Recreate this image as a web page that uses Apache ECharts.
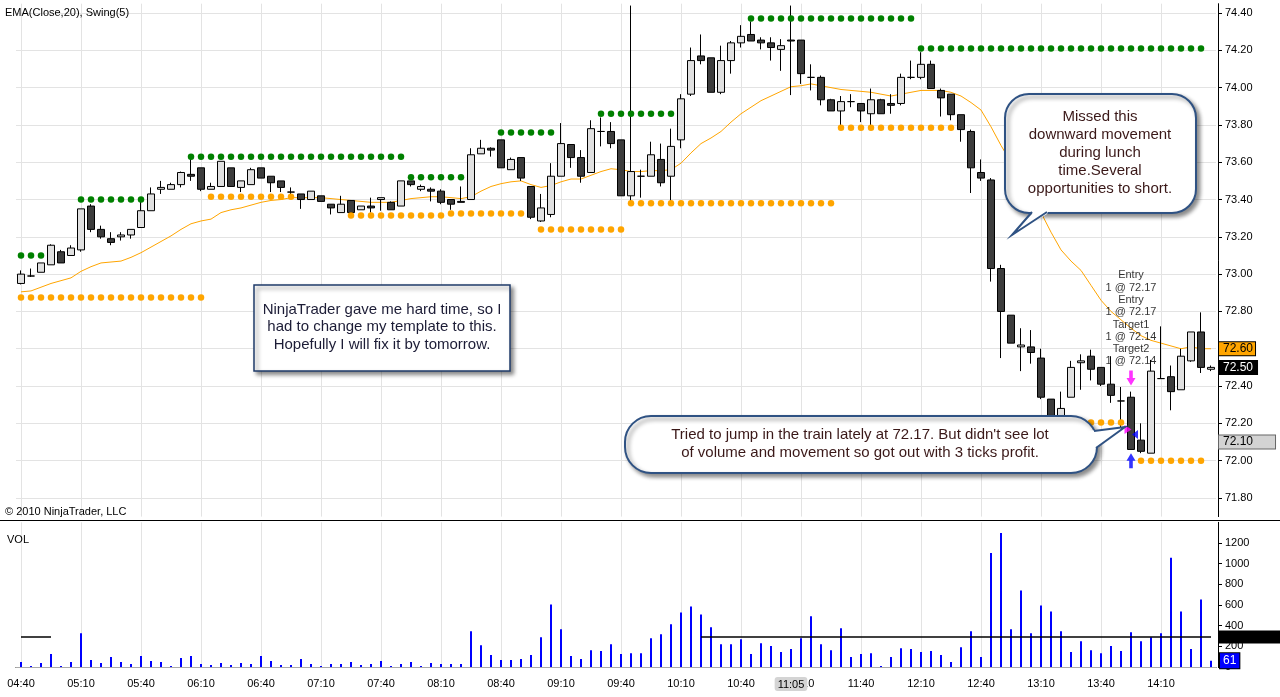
<!DOCTYPE html>
<html>
<head>
<meta charset="utf-8">
<script src="https://cdn.jsdelivr.net/npm/echarts@6/dist/echarts.min.js"></script>
<style>html,body{margin:0;padding:0;background:#fff;}#c{width:1280px;height:697px;}</style>
</head>
<body>
<div id="c"></div>
<script>
// ---------- data ----------
const startTime = '04:40';
const barMinutes = 5;
const tickLabels = ['04:40','05:10','05:40','06:10','06:40','07:10','07:40','08:10','08:40','09:10','09:40','10:10','10:40','11:10','11:40','12:10','12:40','13:10','13:40','14:10'];
const priceTicks = [71.8,72.0,72.2,72.4,72.6,72.8,73.0,73.2,73.4,73.6,73.8,74.0,74.2,74.4];

// [open, close, low, high]
const ohlc = [
[72.95,73.00,72.945,73.02],[72.99,72.99,72.985,73.03],[73.01,73.06,73.01,73.06],[73.05,73.155,73.05,73.16],[73.12,73.06,73.06,73.13],
[73.10,73.14,73.10,73.155],[73.13,73.35,73.12,73.35],[73.365,73.24,73.225,73.375],[73.24,73.20,73.19,73.26],[73.19,73.17,73.155,73.225],
[73.20,73.21,73.18,73.225],[73.21,73.24,73.19,73.24],[73.25,73.34,73.25,73.395],[73.34,73.43,73.34,73.465],[73.455,73.465,73.43,73.50],
[73.455,73.48,73.455,73.49],[73.48,73.545,73.465,73.55],[73.535,73.525,73.50,73.64],[73.57,73.455,73.445,73.57],[73.455,73.47,73.455,73.49],
[73.47,73.605,73.47,73.605],[73.57,73.47,73.47,73.57],[73.465,73.50,73.44,73.50],[73.48,73.56,73.48,73.57],[73.57,73.515,73.515,73.57],
[73.525,73.49,73.44,73.525],[73.50,73.465,73.44,73.50],[73.44,73.44,73.43,73.465],[73.43,73.40,73.35,73.43],[73.40,73.445,73.40,73.445],
[73.42,73.39,73.39,73.42],[73.375,73.355,73.32,73.375],[73.33,73.375,73.33,73.42],[73.395,73.33,73.33,73.395],[73.345,73.365,73.345,73.365],
[73.365,73.355,73.33,73.41],[73.40,73.41,73.34,73.41],[73.385,73.345,73.345,73.39],[73.365,73.50,73.365,73.50],[73.50,73.48,73.47,73.50],
[73.455,73.47,73.445,73.48],[73.455,73.445,73.39,73.465],[73.445,73.385,73.375,73.455],[73.40,73.375,73.345,73.40],[73.39,73.385,73.385,73.47],
[73.40,73.64,73.40,73.675],[73.645,73.675,73.645,73.72],[73.675,73.665,73.63,73.68],[73.72,73.57,73.57,73.72],[73.56,73.615,73.56,73.625],
[73.625,73.515,73.50,73.625],[73.47,73.305,73.295,73.47],[73.285,73.355,73.28,73.43],[73.32,73.525,73.305,73.595],[73.525,73.70,73.525,73.81],
[73.695,73.625,73.57,73.695],[73.625,73.525,73.49,73.665],[73.545,73.78,73.545,73.825],[73.765,73.765,73.685,73.84],[73.765,73.70,73.675,73.815],
[73.72,73.42,73.42,73.72],[73.42,73.55,73.39,74.44],[73.525,73.525,73.41,73.56],[73.525,73.64,73.525,73.71],[73.615,73.49,73.47,73.70],
[73.525,73.685,73.39,73.78],[73.72,73.94,73.675,73.965],[73.965,74.145,73.955,74.215],[74.17,74.145,74.125,74.285],[74.16,73.975,73.975,74.16],
[73.975,74.145,73.965,74.225],[74.145,74.24,74.075,74.25],[74.24,74.275,74.215,74.335],[74.285,74.25,74.25,74.355],[74.255,74.24,74.205,74.27],
[74.24,74.215,74.145,74.27],[74.205,74.225,74.09,74.26],[74.255,74.25,73.96,74.44],[74.255,74.075,74.02,74.255],[74.055,74.055,73.985,74.125],
[74.055,73.935,73.905,74.065],[73.935,73.875,73.875,73.94],[73.875,73.925,73.80,73.955],[73.925,73.925,73.895,73.965],[73.915,73.875,73.815,73.915],
[73.86,73.935,73.80,73.995],[73.935,73.86,73.86,73.94],[73.915,73.905,73.86,73.965],[73.915,74.055,73.905,74.075],[74.055,74.055,74.045,74.145],
[74.055,74.125,74.045,74.19],[74.125,73.995,73.995,74.145],[73.985,73.945,73.845,73.995],[73.965,73.855,73.825,73.965],[73.855,73.775,73.71,73.855],
[73.765,73.57,73.435,73.775],[73.545,73.515,73.50,73.615],[73.505,73.03,72.96,73.515],[73.03,72.80,72.55,73.05],[72.78,72.63,72.63,72.78],
[72.61,72.62,72.48,72.71],[72.61,72.58,72.52,72.70],[72.55,72.34,72.33,72.60],[72.33,72.23,72.22,72.33],[72.23,72.28,72.22,72.37],
[72.34,72.50,72.34,72.535],[72.525,72.535,72.38,72.57],[72.56,72.49,72.43,72.595],[72.50,72.41,72.40,72.50],[72.41,72.35,72.31,72.56],
[72.32,72.32,72.17,72.395],[72.34,72.06,72.06,72.37],[72.11,72.05,72.04,72.20],[72.04,72.48,72.04,72.54],[72.44,72.44,72.44,72.72],
[72.45,72.37,72.27,72.51],[72.38,72.56,72.38,72.60],[72.535,72.69,72.53,72.69],[72.69,72.50,72.47,72.795],[72.49,72.50,72.48,72.51]
];

const ema20 = [
72.905,72.91,72.93,72.95,72.965,72.98,73.015,73.04,73.06,73.065,
73.07,73.09,73.115,73.145,73.175,73.205,73.24,73.27,73.285,73.295,
73.33,73.345,73.355,73.37,73.385,73.395,73.40,73.41,73.41,73.41,
73.41,73.405,73.40,73.395,73.39,73.385,73.385,73.385,73.395,73.405,
73.41,73.415,73.415,73.41,73.405,73.415,73.445,73.47,73.485,73.495,
73.50,73.48,73.465,73.475,73.495,73.51,73.51,73.53,73.55,73.565,
73.56,73.55,73.55,73.555,73.555,73.56,73.595,73.65,73.70,73.73,
73.765,73.815,73.86,73.895,73.93,73.955,73.98,74.005,74.01,74.02,
74.01,74.00,73.99,73.985,73.98,73.975,73.965,73.955,73.965,73.975,
73.985,73.985,73.985,73.975,73.955,73.92,73.88,73.79,73.69,73.60,
73.51,73.42,73.33,73.225,73.13,73.07,73.02,72.94,72.86,72.80,
72.755,72.71,72.67,72.645,72.63,72.615,72.60,72.61,72.60,72.60
];

const volume = [
48,10,38,125,10,48,326,67,38,96,
48,29,106,58,48,10,86,106,29,19,
38,19,38,29,106,58,19,19,77,29,
10,29,29,48,19,29,58,10,29,48,
10,38,29,29,29,346,211,115,67,67,
77,115,288,605,365,106,77,163,154,221,
125,134,134,278,317,413,528,586,509,384,
221,221,269,125,230,202,144,173,278,490,
221,163,374,96,125,134,10,96,182,173,
144,154,115,48,192,346,96,1104,1296,365,
739,326,595,538,346,144,250,163,134,202,
154,336,250,288,326,1056,538,173,653,61
];

// Swing(5) levels: value, first bar, last bar
const swingHighLevel = [73.10, 73.40, 73.63, 73.52, 73.76, 73.86, 74.37, 74.21];
const swingHighFrom  = [0, 6, 17, 39, 48, 58, 73, 90];
const swingHighTo    = [2, 12, 38, 44, 53, 65, 89, 118];
const swingLowLevel  = [72.875, 73.415, 73.315, 73.325, 73.24, 73.38, 73.785, 72.205, 72.00];
const swingLowFrom   = [0, 19, 33, 43, 52, 61, 82, 103, 112];
const swingLowTo     = [18, 27, 42, 50, 60, 81, 93, 110, 118];

// executions
const execBars   = [111, 111, 111, 111];
const execPrices = [72.443, 72.00, 72.167, 72.14];
const execText = ['Entry','1 @ 72.17','Entry','1 @ 72.17','Target1','1 @ 72.14','Target2','1 @ 72.14'];

// right-axis price tags
const emaTag = 72.60;
const lastTag = 72.50;
const greyTag = 72.10;
const volTag = 61;
const volAvgLevel = 290;
const volAvgFrom = [0, 68];
const volAvgTo = [3, 119];
const cursorBar = '11:05';

// ---------- build ----------
const n = ohlc.length;
const [h0, m0] = startTime.split(':').map(Number);
const categories = [];
for (let i = 0; i < n; i++) {
  const t = h0 * 60 + m0 + i * barMinutes;
  categories.push(String(Math.floor(t / 60)).padStart(2, '0') + ':' + String(t % 60).padStart(2, '0'));
}
function segs(levels, from, to) {
  const arr = new Array(n).fill(null);
  levels.forEach((lv, k) => { for (let i = from[k]; i <= to[k]; i++) arr[i] = lv; });
  return arr;
}
const highDots = segs(swingHighLevel, swingHighFrom, swingHighTo);
const lowDots = segs(swingLowLevel, swingLowFrom, swingLowTo);

const FONT = 'Arial, "Liberation Sans", sans-serif';
const arrowDown = 'path://M3,0 L7,0 L7,7 L10,7 L5,14 L0,7 L3,7 Z';
const arrowUp = 'path://M5,0 L10,7 L7,7 L7,14 L3,14 L3,7 L0,7 Z';
const execStyles = [
  {symbol: arrowDown, symbolSize: [9, 15], color: '#ff00ff',
   label: {show: true, position: 'top', distance: 3, formatter: execText.join('\n'), fontSize: 11, lineHeight: 12.3, color: '#000', fontFamily: FONT}},
  {symbol: arrowUp, symbolSize: [9, 15], color: '#0000ff'},
  {symbol: 'triangle', symbolSize: [9, 7], symbolRotate: -90, symbolOffset: [-3, 0], color: '#ff00ff'},
  {symbol: 'triangle', symbolSize: [9, 6], symbolRotate: 90, symbolOffset: [4, 0], color: '#0000ff'}
];
const execData = execBars.map((b, k) => {
  const s = execStyles[k];
  const d = {value: [b, execPrices[k]], symbol: s.symbol, symbolSize: s.symbolSize, itemStyle: {color: s.color}};
  if (s.symbolRotate !== undefined) d.symbolRotate = s.symbolRotate;
  if (s.symbolOffset) d.symbolOffset = s.symbolOffset;
  d.label = s.label || {show: false};
  return d;
});

const gridColor = '#e3e3e3';
const clear = 'rgba(0,0,0,0)';
function tagLabel(bg, fg, border, padRight) {
  return {show: true, position: 'end', distance: 3, formatter: p => Number(p.value).toFixed(2),
    backgroundColor: bg, color: fg, borderColor: border, borderWidth: 1,
    padding: [1, padRight, 0, 4], fontSize: 12, fontFamily: FONT};
}
const calloutStyle = {fill: '#fff', stroke: '#2f5283', lineWidth: 2, shadowBlur: 4, shadowOffsetX: 3, shadowOffsetY: 3, shadowColor: 'rgba(0,0,0,0.45)'};

const option = {
  animation: false,
  backgroundColor: '#ffffff',
  textStyle: {fontFamily: FONT},
  axisPointer: {triggerOn: 'none'},
  grid: [
    {left: 16, right: 64, top: 3.7, height: 512.9},
    {left: 16, right: 64, top: 522.3, height: 144.7}
  ],
  xAxis: [
    {type: 'category', gridIndex: 0, data: categories, boundaryGap: true,
     axisLine: {show: false}, axisTick: {show: false}, axisLabel: {show: false}, splitLine: {show: false}},
    {type: 'category', gridIndex: 1, data: categories, boundaryGap: true, offset: 4,
     axisLine: {show: true, lineStyle: {color: '#000', width: 1}}, axisTick: {show: false},
     axisLabel: {interval: 5, color: '#000', fontSize: 11, margin: 7, fontFamily: FONT},
     splitLine: {show: false},
     axisPointer: {show: true, type: 'line', value: categories.indexOf(cursorBar), status: 'show', snap: true,
       lineStyle: {opacity: 0}, triggerTooltip: false,
       label: {show: true, backgroundColor: '#d4d4d4', color: '#000', fontSize: 11, padding: [2, 3, 1, 3], margin: 6, fontFamily: FONT}}}
  ],
  yAxis: [
    {type: 'value', gridIndex: 0, position: 'right', min: 71.7, max: 74.45, offset: 2, scale: true,
     axisLine: {show: true, lineStyle: {color: '#000'}},
     axisTick: {show: true, length: 4, lineStyle: {color: '#000'}, customValues: priceTicks},
     axisLabel: {customValues: priceTicks, formatter: v => Number(v).toFixed(2), color: '#000', fontSize: 11, margin: 7, fontFamily: FONT},
     splitLine: {show: false}},
    {type: 'value', gridIndex: 1, position: 'right', min: 0, max: 1400, interval: 200, offset: 2,
     axisLine: {show: true, lineStyle: {color: '#000'}},
     axisTick: {show: true, length: 4, lineStyle: {color: '#000'}},
     axisLabel: {showMaxLabel: false, formatter: v => String(v), color: '#000', fontSize: 11, margin: 7, padding: [5, 0, 0, 0], fontFamily: FONT},
     splitLine: {show: false}}
  ],
  series: [
    {name: 'EMA', type: 'line', xAxisIndex: 0, yAxisIndex: 0, data: ema20, symbol: 'none', z: 2,
     lineStyle: {color: '#ffa500', width: 1}, itemStyle: {color: '#ffa500'},
     markLine: {silent: true, symbol: 'none', z: 1, animation: false,
       lineStyle: {color: gridColor, width: 1, type: 'solid'}, label: {show: false},
       data: [...priceTicks.map(v => ({yAxis: v})), ...tickLabels.map(t => ({xAxis: t}))]}},
    {name: 'Price', type: 'candlestick', xAxisIndex: 0, yAxisIndex: 0, data: ohlc, barWidth: 7, z: 3,
     itemStyle: {color: '#e0e0e0', color0: '#3c3c3c', borderColor: '#000', borderColor0: '#000', borderColorDoji: '#000', borderWidth: 1},
     markLine: {silent: true, symbol: 'none', z: 6, animation: false, lineStyle: {color: clear, width: 0},
       data: [
         {yAxis: emaTag, label: tagLabel('#ffa500', '#000', '#000', 2)},
         {yAxis: lastTag, label: tagLabel('#000000', '#fff', '#000', 4)},
         {yAxis: greyTag, label: tagLabel('#d3d3d3', '#000', '#666', 22)}
       ]}},
    {name: 'SwingHigh', type: 'scatter', xAxisIndex: 0, yAxisIndex: 0, data: highDots, symbolSize: 6.5, z: 4,
     itemStyle: {color: '#008000', opacity: 1}},
    {name: 'SwingLow', type: 'scatter', xAxisIndex: 0, yAxisIndex: 0, data: lowDots, symbolSize: 6.5, z: 4,
     itemStyle: {color: '#ffa500', opacity: 1}},
    {name: 'Exec', type: 'scatter', xAxisIndex: 0, yAxisIndex: 0, data: execData, z: 5},
    {name: 'VOL', type: 'bar', xAxisIndex: 1, yAxisIndex: 1, data: volume, barWidth: 2, z: 2,
     itemStyle: {color: '#0000ff'},
     markLine: {silent: true, symbol: 'none', z: 1, animation: false,
       lineStyle: {color: gridColor, width: 1, type: 'solid'}, label: {show: false},
       data: tickLabels.map(t => ({xAxis: t}))}},
    {name: 'VOLlines', type: 'line', xAxisIndex: 1, yAxisIndex: 1, data: volume.map(() => null), symbol: 'none', z: 6,
     markLine: {silent: true, symbol: 'none', z: 6, animation: false,
       lineStyle: {color: '#000', width: 1.5, type: 'solid'},
       data: [
         [{coord: [volAvgFrom[0], volAvgLevel], label: {show: false}}, {coord: [volAvgTo[0], volAvgLevel]}],
         [{coord: [volAvgFrom[1], volAvgLevel], label: {show: false}}, {coord: [volAvgTo[1], volAvgLevel]}],
         {yAxis: 0, lineStyle: {color: '#aaaaaa', width: 1}, label: {show: false}},
         {yAxis: volAvgLevel, lineStyle: {color: clear, width: 0},
          label: {show: true, position: 'end', distance: 2, formatter: ' ', backgroundColor: '#000', width: 62, height: 13, padding: 0}},
         {yAxis: volTag, lineStyle: {color: clear, width: 0},
          label: {show: true, position: 'end', distance: 4, formatter: String(volTag), backgroundColor: '#0000ff', color: '#fff',
                  borderColor: '#000', borderWidth: 1, padding: [2, 3, 1, 3], fontSize: 12, fontFamily: FONT}}
       ]}}
  ],
  graphic: [
    {type: 'line', z: 100, shape: {x1: 0, y1: 520.5, x2: 1280, y2: 520.5}, style: {stroke: '#000', lineWidth: 1}},
    {type: 'text', z: 100, style: {text: 'EMA(Close,20), Swing(5)', x: 5, y: 13, fill: '#000', font: '11px ' + FONT, textVerticalAlign: 'middle', verticalAlign: 'middle'}},
    {type: 'text', z: 100, style: {text: '\u00a9 2010 NinjaTrader, LLC', x: 5, y: 512, fill: '#000', font: '11px ' + FONT, textVerticalAlign: 'middle', verticalAlign: 'middle'}},
    {type: 'text', z: 100, style: {text: 'VOL', x: 7, y: 540, fill: '#000', font: '11px ' + FONT, textVerticalAlign: 'middle', verticalAlign: 'middle'}},
    // note box
    {type: 'rect', z: 100, shape: {x: 254, y: 285, width: 256, height: 86},
     style: {fill: '#fff', stroke: '#1f3b6a', lineWidth: 1.5, shadowBlur: 4, shadowOffsetX: 3, shadowOffsetY: 3, shadowColor: 'rgba(0,0,0,0.45)'}},
    {type: 'text', z: 101, style: {text: 'NinjaTrader gave me hard time, so I\nhad to change my template to this.\nHopefully I will fix it by tomorrow.',
      x: 382, y: 327, fill: '#1c1c36', font: '15px ' + FONT, lineHeight: 17.5, textAlign: 'center', align: 'center', textVerticalAlign: 'middle', verticalAlign: 'middle'}},
    // callout: missed move
    {type: 'rect', z: 100, shape: {x: 1005, y: 94, width: 191, height: 119, r: 24}, style: calloutStyle},
    {type: 'polygon', z: 101, shape: {points: [[1030, 210], [1049, 210], [1047, 214], [1012, 235], [1032, 214]]}, style: {fill: '#fff'}},
    {type: 'polyline', z: 102, shape: {points: [[1032, 212], [1012, 235], [1047, 212]]}, style: {stroke: '#2f5283', lineWidth: 2, fill: null}},
    {type: 'text', z: 103, style: {text: 'Missed this\ndownward movement\nduring lunch\ntime.Several\nopportunities to short.',
      x: 1100, y: 153, fill: '#3a1818', font: '15px ' + FONT, lineHeight: 18, textAlign: 'center', align: 'center', textVerticalAlign: 'middle', verticalAlign: 'middle'}},
    // callout: trade
    {type: 'rect', z: 100, shape: {x: 625, y: 416, width: 472, height: 57, r: 26}, style: calloutStyle},
    {type: 'polygon', z: 101, shape: {points: [[1089, 431], [1125, 427], [1092, 450], [1086, 440]]}, style: {fill: '#fff'}},
    {type: 'polyline', z: 102, shape: {points: [[1094, 431], [1125, 427], [1096, 448]]}, style: {stroke: '#2f5283', lineWidth: 2, fill: null}},
    {type: 'text', z: 103, style: {text: "Tried to jump in the train lately at 72.17. But didn't see lot\nof volume and movement so got out with 3 ticks profit.",
      x: 860, y: 444, fill: '#3a1818', font: '15px ' + FONT, lineHeight: 18.3, textAlign: 'center', align: 'center', textVerticalAlign: 'middle', verticalAlign: 'middle'}}
  ]
};

const chart = echarts.init(document.getElementById('c'), null, {renderer: 'canvas'});
chart.setOption(option);
</script>
</body>
</html>
